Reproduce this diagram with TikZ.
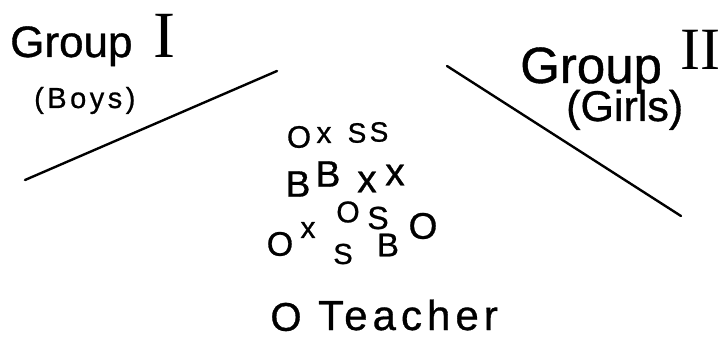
\documentclass[tikz,border=0pt]{standalone}
\usepackage{fontspec}
\setmainfont[FakeBold=0.8]{Liberation Sans}
\newfontfamily\numfont{Liberation Serif}
\begin{document}
\begin{tikzpicture}[x=1pt,y=-1pt,
  lbl/.style={inner sep=0pt, anchor=base west},
  sym/.style={inner sep=0pt, font=\fontsize{#1pt}{#1pt}\selectfont},
  divider/.style={line width=2.4pt, line cap=round}]
\fill[white] (0,0) rectangle (724,337);
\useasboundingbox (0,0) rectangle (724,337);
% headings
\node[lbl, font=\fontsize{44pt}{44pt}\selectfont] (g1) at (10,57) {Group};
\node[lbl, font=\numfont\fontsize{66pt}{66pt}\selectfont] (n1) at (153,58) {I};
\node[lbl, font=\fontsize{29pt}{29pt}\selectfont\addfontfeatures{LetterSpace=12}] (boys) at (34,108) {(Boys)};
\node[lbl, font=\fontsize{51pt}{51pt}\selectfont] (g2) at (520,83) {Group};
\node[lbl, font=\numfont\fontsize{60pt}{60pt}\selectfont] (n2) at (680,70) {II};
\node[lbl, font=\fontsize{43pt}{43pt}\selectfont] (girls) at (566,121) {(Girls)};
% dividing lines
\coordinate (l1a) at (25,180);
\coordinate (l1b) at (277,71);
\coordinate (l2a) at (447,66);
\coordinate (l2b) at (681,216);
\draw[divider] (l1a) -- (l1b);
\draw[divider] (l2a) -- (l2b);
% pupils
\node[sym=31] (r1o) at (299,137) {O};
\node[sym=30] (r1x) at (324,135) {x};
\node[sym=28] (r1s1) at (357,133) {S};
\node[sym=28] (r1s2) at (379,132) {S};
\node[sym=37] (r2b1) at (298,184) {B};
\node[sym=37] (r2b2) at (328,174) {B};
\node[sym=39] (r2x1) at (367,182) {x};
\node[sym=39] (r2x2) at (395,175) {x};
\node[sym=30] (r3o1) at (348,212) {O};
\node[sym=32] (r3s) at (378,218) {S};
\node[sym=37] (r3o2) at (423,226) {O};
\node[sym=30] (r3x) at (308,230) {x};
\node[sym=34] (r4o) at (280,244) {O};
\node[sym=29] (r4s) at (343,254) {S};
\node[sym=33] (r4b) at (388,245) {B};
% teacher
\node[sym=40] (tO) at (286,317) {O};
\node[lbl, font=\fontsize{42pt}{42pt}\selectfont\addfontfeatures{LetterSpace=12}] (teacher) at (318,330) {Teacher};
\end{tikzpicture}
\end{document}
